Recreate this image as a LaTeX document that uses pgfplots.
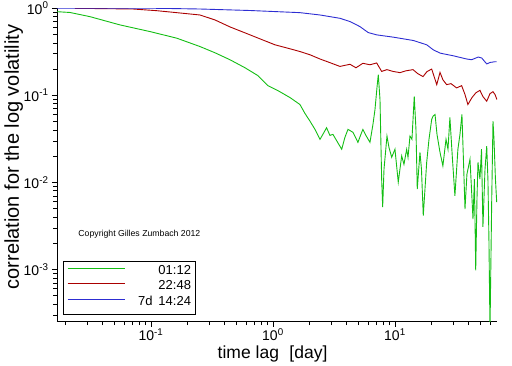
\documentclass[border=0pt]{standalone}
\usepackage{pgfplots}
\pgfplotsset{compat=1.18}
\usepackage{fontspec}
\setmainfont{Liberation Sans}
\definecolor{cgreen}{RGB}{20,190,20}
\definecolor{cred}{RGB}{170,0,0}
\definecolor{cblue}{RGB}{45,45,210}
\begin{document}
\begin{tikzpicture}
\begin{axis}[
  at={(0,0)}, anchor=south west,
  scale only axis, width=440bp, height=313.5bp,
  xmode=log, ymode=log, log basis x=10, log basis y=10,
  xmin=0.01698, xmax=68.6, ymin=2.51e-4, ymax=1,
  axis x line*=bottom, axis y line*=left,
  axis line style={line width=0.8bp, black},
  tick align=outside, major tick length=5bp, minor tick length=3.5bp,
  tick style={black, line width=0.6bp},
  ticklabel style={font=\fontsize{14bp}{16bp}\selectfont},
  xticklabel style={inner ysep=1.5bp},
  log number format basis/.code 2 args={#1\textsuperscript{\pgfmathprintnumber[assume math mode=true]{#2}}},
  xlabel={time lag\hspace{0.6em}[day]},
  xlabel style={font=\fontsize{17.5bp}{20bp}\selectfont, at={(axis description cs:0.49,-0.1165)}, anchor=base},
  ylabel={correlation for the log volatility},
  ylabel style={font=\fontsize{20bp}{22bp}\selectfont, at={(axis description cs:-0.0864,0.525)}, anchor=base},
  legend style={at={(axis description cs:0.013,0.0236)}, anchor=south west, draw=black, line width=0.8bp, fill=white,
    inner xsep=4bp, inner ysep=3bp, font=\fontsize{13bp}{15bp}\selectfont, row sep=0bp, column sep=0bp,
    nodes={inner sep=0bp, text height=10bp, text depth=5.5bp}},
  legend image code/.code={\draw[#1, line width=0.9bp] (0bp,4bp) -- (57bp,4bp);},
  legend cell align=right,
]
\addplot[cgreen, line width=0.9bp] coordinates {
(0.01698,0.912) (0.0217,0.893) (0.0316,0.800) (0.0557,0.643) (0.0981,0.539)
(0.1625,0.453) (0.252,0.363) (0.335,0.3076) (0.444,0.256) (0.590,0.207)
(0.754,0.168) (0.910,0.129) (1.099,0.113) (1.378,0.0942) (1.664,0.0783)
(1.83,0.0618) (2.01,0.0505) (2.21,0.0406) (2.43,0.0312) (2.62,0.0375)
(2.75,0.0424) (2.93,0.0346) (3.10,0.0356) (3.35,0.0296) (3.66,0.0240)
(3.89,0.0329) (4.12,0.0406) (4.53,0.0375) (4.97,0.0288) (5.26,0.0356)
(5.46,0.0406) (5.78,0.0346) (6.24,0.0288) (6.60,0.0463) (6.86,0.0687)
(7.12,0.1225) (7.30,0.1725) (7.54,0.0893) (7.78,0.01088) (7.93,0.00521)
(8.13,0.01416) (8.60,0.0340) (8.93,0.0252) (9.40,0.0194) (10.0,0.0240)
(10.64,0.01005) (11.35,0.0201) (11.85,0.0161) (12.47,0.0240) (12.79,0.0194)
(13.27,0.0340) (13.78,0.0312) (14.39,0.0974) (14.86,0.0406) (15.23,0.00836)
(16.03,0.0221) (16.49,0.01416) (17.06,0.00414) (18.2,0.0170) (19.0,0.0312)
(20.0,0.0528) (20.5,0.0575) (21.3,0.0602) (22.1,0.0356) (23.4,0.0221)
(24.7,0.01545) (26.2,0.0312) (27.2,0.0240) (28.2,0.0556) (29.6,0.0184)
(31.0,0.00701) (32.8,0.0240) (34.1,0.0356) (35.4,0.0603) (36.4,0.0184)
(37.5,0.00494) (38.9,0.0124) (41.2,0.0184) (42.4,0.00836) (43.6,0.00379)
(44.8,0.01088) (45.9,0.000975) (47.0,0.00643) (47.9,0.0170) (49.7,0.01088)
(51.2,0.0240) (52.6,0.00308) (54.7,0.01416) (56.5,0.0261) (57.8,0.01088)
(58.9,0.00224) (60.1,0.0002) (62.1,0.00643) (63.6,0.0505) (64.8,0.0312)
(66.6,0.01088) (68.2,0.00594)
};
\addlegendentry{\makebox[66bp][r]{01:12}}
\addplot[cred, line width=0.9bp] coordinates {
(0.0238,0.997) (0.0712,0.979) (0.112,0.936) (0.173,0.881) (0.252,0.836)
(0.335,0.733) (0.444,0.610) (0.590,0.521) (0.782,0.445) (1.038,0.380)
(1.378,0.342) (1.664,0.318) (2.01,0.292) (2.43,0.261) (2.93,0.237)
(3.54,0.2145) (4.28,0.227) (4.79,0.207) (5.46,0.233) (6.24,0.224)
(7.08,0.235) (7.78,0.188) (8.60,0.197) (9.63,0.188) (11.0,0.182)
(12.3,0.191) (14.05,0.197) (15.4,0.177) (16.98,0.164) (18.3,0.187)
(20.0,0.200) (22.0,0.1325) (23.4,0.183) (24.7,0.151) (26.5,0.1325)
(28.8,0.136) (32.0,0.1215) (35.2,0.129) (37.5,0.102) (39.6,0.0783)
(42.8,0.0942) (46.1,0.107) (49.7,0.114) (52.6,0.0967) (56.5,0.0854)
(60.1,0.1045) (63.6,0.110) (66.1,0.102) (68.5,0.0893)
};
\addlegendentry{\makebox[66bp][r]{22:48}}
\addplot[cblue, line width=0.9bp] coordinates {
(0.01698,1.0) (0.0981,1.0) (0.252,0.979) (0.648,0.941) (1.664,0.889)
(2.427,0.836) (3.54,0.766) (4.28,0.702) (5.16,0.615) (6.04,0.525)
(7.08,0.494) (9.69,0.465) (14.13,0.426) (18.2,0.380) (20.6,0.333)
(23.4,0.305) (30.1,0.284) (38.7,0.261) (42.5,0.256) (48.2,0.275)
(51.4,0.268) (56.5,0.229) (60.1,0.238) (66.1,0.243) (68.2,0.243)
};
\addlegendentry{\makebox[66bp][r]{7d\hspace{6bp}14:24}}
\node[anchor=west, font=\fontsize{8.7bp}{10bp}\selectfont, inner sep=0bp] at (axis cs:0.02536,0.00256) {Copyright Gilles Zumbach 2012};
\end{axis}
\pgfresetboundingbox
\path[use as bounding box] (-57bp,-44.3bp) rectangle (455bp,321.7bp);
\end{tikzpicture}
\end{document}
